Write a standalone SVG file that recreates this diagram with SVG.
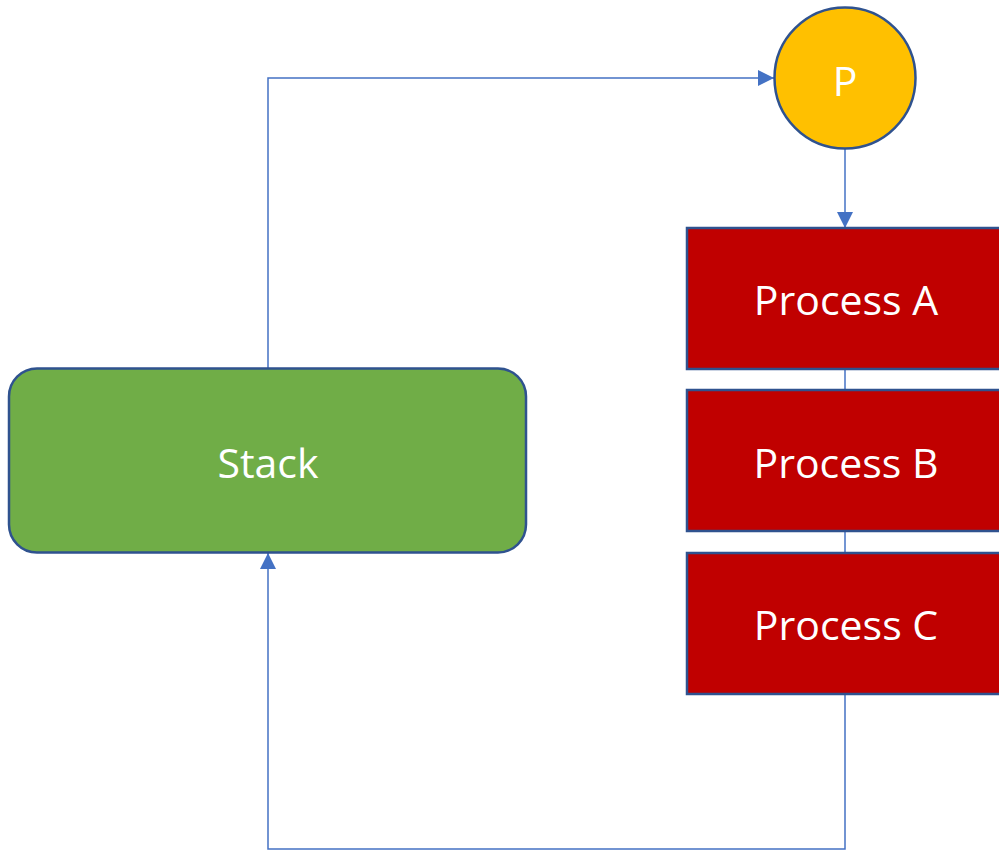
<svg xmlns="http://www.w3.org/2000/svg" width="999" height="852" viewBox="0 0 999 852">
  <style>
    .conn { fill: none; stroke: #4472C4; stroke-width: 1.5; }
    .proc rect { fill: #C00000; stroke: #2F528F; stroke-width: 2.5; }
    .label { font-family: "Open Sans", "Noto Sans", "Liberation Sans", sans-serif; font-size: 41px; fill: #FFFFFF; text-anchor: middle; dominant-baseline: central; }
  </style>
  <defs>
    <marker id="arrow" viewBox="0 0 10 10" refX="10" refY="5" markerWidth="16" markerHeight="16" markerUnits="userSpaceOnUse" orient="auto">
      <path d="M0,0 L10,5 L0,10 Z" fill="#4472C4"/>
    </marker>
  </defs>
  <rect width="999" height="852" fill="#FFFFFF"/>

  <g id="connectors">
    <!-- Stack -> P -->
    <path class="conn" d="M268,368 V78 H774" marker-end="url(#arrow)"/>
    <!-- P -> Process A -->
    <path class="conn" d="M845,149 V228" marker-end="url(#arrow)"/>
    <!-- A -> B, B -> C -->
    <path class="conn" d="M845,369 V390"/>
    <path class="conn" d="M845,531 V553"/>
    <!-- Process C -> Stack -->
    <path class="conn" d="M845,694 V849 H268 V553" marker-end="url(#arrow)"/>
  </g>

  <g id="node-p">
    <circle cx="845" cy="78" r="70.5" fill="#FFC000" stroke="#2F528F" stroke-width="2.5"/>
    <text class="label" x="845" y="80">P</text>
  </g>

  <g id="node-stack">
    <rect x="9" y="368.5" width="517" height="184" rx="28" ry="28" fill="#70AD47" stroke="#2F528F" stroke-width="2.5"/>
    <text class="label" x="268" y="462">Stack</text>
  </g>

  <g id="node-process-a" class="proc">
    <rect x="687" y="228" width="320" height="141"/>
    <text class="label" x="846" y="299">Process A</text>
  </g>

  <g id="node-process-b" class="proc">
    <rect x="687" y="390" width="320" height="141"/>
    <text class="label" x="846" y="462">Process B</text>
  </g>

  <g id="node-process-c" class="proc">
    <rect x="687" y="553" width="320" height="141"/>
    <text class="label" x="846" y="624">Process C</text>
  </g>
</svg>
